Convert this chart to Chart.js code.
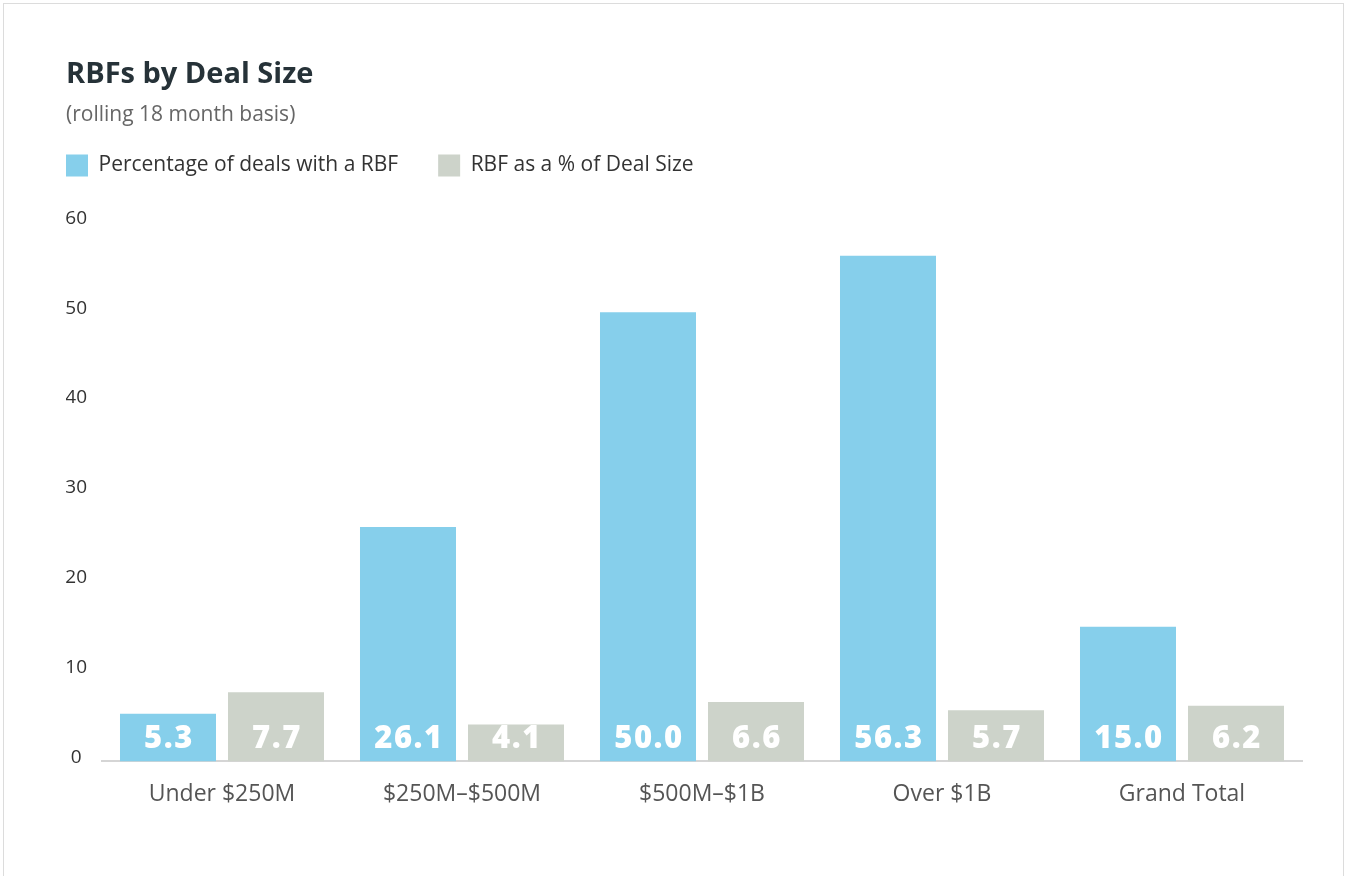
<!DOCTYPE html>
<html>
<head>
<meta charset="utf-8">
<script src="https://cdn.jsdelivr.net/npm/chart.js@4/dist/chart.umd.min.js"></script>
<style>
  body { margin: 0; background: #fff; }
  #frame { position: absolute; left: 3px; top: 3px; width: 1339px; height: 880px; border: 1px solid #dcdcdc; }
</style>
</head>
<body>
<div id="frame"><canvas id="barChart-rbf" width="1339" height="872"></canvas></div>
<script>
// data
const categories = ["Under $250M", "$250M\u2013$500M", "$500M\u2013$1B", "Over $1B", "Grand Total"];
const pctDealsWithRbf = [5.3, 26.1, 50.0, 56.3, 15.0];
const rbfPctOfDealSize = [7.7, 4.1, 6.6, 5.7, 6.2];
const yTicks = [0, 10, 20, 30, 40, 50, 60];

const FONT = "'Open Sans', Lato, sans-serif";

// white value labels at the foot of each bar
const valueLabels = {
    id: 'valueLabels',
    afterDatasetsDraw(chart) {
        const ctx = chart.ctx;
        const zeroY = chart.scales.y.getPixelForValue(0);
        ctx.save();
        ctx.fillStyle = '#ffffff';
        ctx.font = "800 31px " + FONT;
        ctx.letterSpacing = '1.5px';
        ctx.textAlign = 'center';
        ctx.textBaseline = 'alphabetic';
        chart.data.datasets.forEach((ds, i) => {
            chart.getDatasetMeta(i).data.forEach((bar, j) => {
                ctx.fillText(ds.data[j].toFixed(1), bar.x + 1, zeroY - 13);
            });
        });
        ctx.restore();
    }
};

// move legend to line up with the title
const legendShift = {
    id: 'legendShift',
    afterLayout(chart) {
        const lg = chart.legend;
        lg.left -= 40; lg.right -= 40;
        lg.top -= 36; lg.bottom -= 36;
    }
};

let barCtx_rbf = document.getElementById("barChart-rbf");
let barConfig_rbf = {
    type: 'bar',
    data: {
        labels: categories,
        datasets: [{
            label: 'Percentage of deals with a RBF',
            data: pctDealsWithRbf,
            backgroundColor: '#86cfeb',
            borderWidth: 0,
            categoryPercentage: 0.9,
            barPercentage: 0.889,
        }, {
            label: 'RBF as a % of Deal Size',
            data: rbfPctOfDealSize,
            backgroundColor: '#cdd3ca',
            borderWidth: 0,
            categoryPercentage: 0.9,
            barPercentage: 0.889,
        }]
    },
    options: {
        responsive: false,
        animation: false,
        layout: { padding: { left: 62, right: 41, top: 53, bottom: 49 } },
        plugins: {
            title: {
                display: true,
                text: 'RBFs by Deal Size',
                align: 'start',
                color: '#263238',
                font: { family: FONT, size: 29, weight: 'bold' },
                padding: { top: 0, bottom: 11 }
            },
            subtitle: {
                display: true,
                text: '(rolling 18 month basis)',
                align: 'start',
                color: '#666666',
                font: { family: FONT, size: 21 },
                padding: { top: 0, bottom: 22.4 }
            },
            legend: {
                align: 'start',
                labels: {
                    boxWidth: 22,
                    boxHeight: 22,
                    padding: 40,
                    color: '#333333',
                    font: { family: FONT, size: 21 }
                }
            },
            tooltip: { enabled: false }
        },
        scales: {
            x: {
                grid: { display: false, drawTicks: false },
                border: { display: true, color: '#d5d5d5', width: 2 },
                ticks: { color: '#555555', font: { family: FONT, size: 23 }, padding: 19 }
            },
            y: {
                min: 0,
                max: 60,
                afterBuildTicks(scale) { scale.ticks = yTicks.map(v => ({ value: v })); },
                afterFit(scale) { scale.width = 36; },
                grid: { display: false, drawTicks: false },
                border: { display: false },
                ticks: { color: '#333333', font: { family: FONT, size: 19 }, padding: 15, crossAlign: 'center', labelOffset: -4 }
            }
        }
    },
    plugins: [valueLabels, legendShift]
};
let barChart_rbf = new Chart(barCtx_rbf, barConfig_rbf);
</script>
</body>
</html>
